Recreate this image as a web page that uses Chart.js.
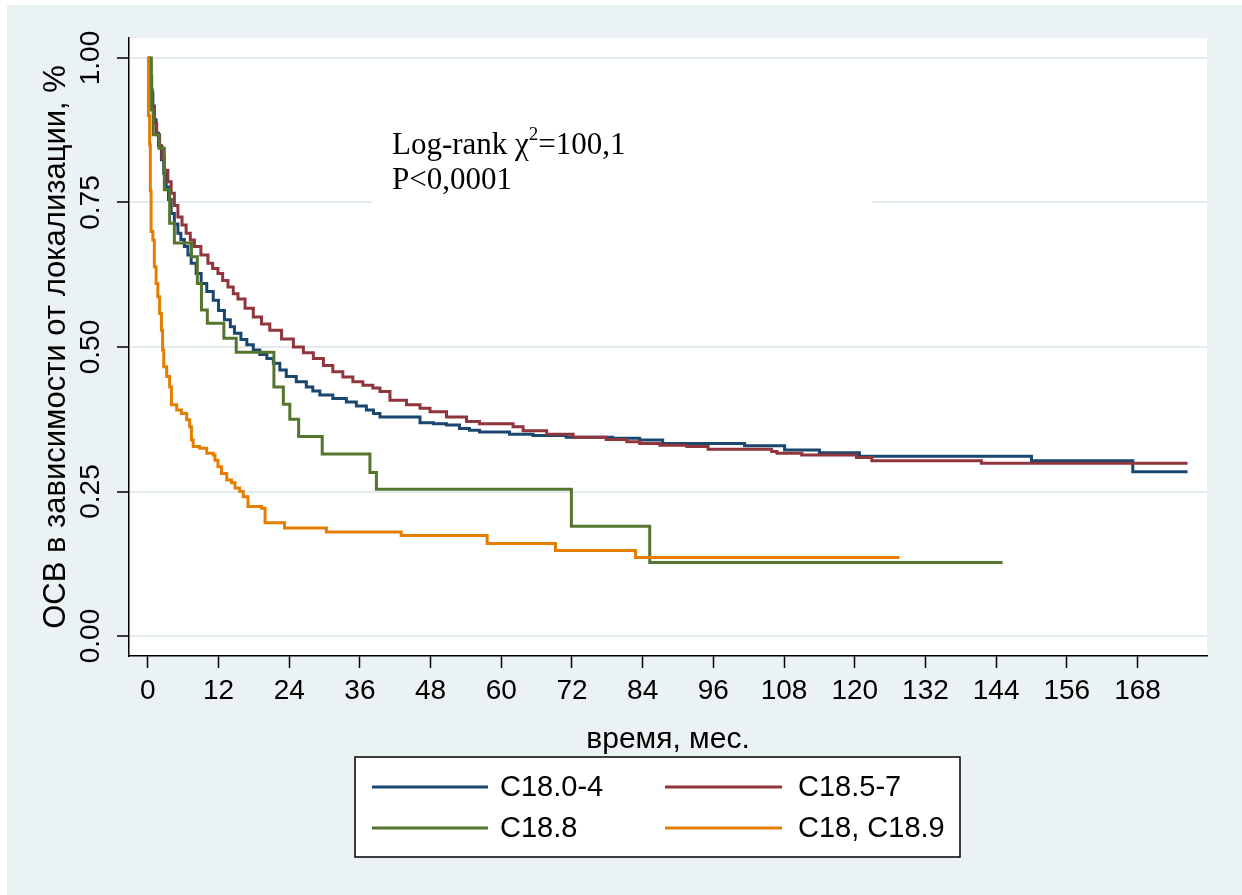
<!DOCTYPE html>
<html>
<head>
<meta charset="utf-8">
<script src="https://cdn.jsdelivr.net/npm/chart.js@4.4.1/dist/chart.umd.min.js"></script>
<style>
  html, body { margin: 0; padding: 0; background: #ffffff; }
  canvas { display: block; }
</style>
</head>
<body>
<canvas id="km" width="1242" height="895"></canvas>
<script>
// Groups by tumour localisation
const seriesLabels = ['C18.0-4', 'C18.5-7', 'C18.8', 'C18, C18.9'];
const seriesColors = ['#1a476f', '#90353b', '#55752f', '#e37e00'];

// Kaplan–Meier estimates: time in months and survival proportion after each drop
const monthsC18_0_4 = [0,0.2,0.45,0.65,0.85,1.1,1.4,1.8,2.3,2.7,3.1,3.5,3.95,4.5,5.1,5.6,6.2,6.8,7.35,8.2,9.05,10.0,11.1,12.0,13.0,14.0,14.7,15.8,16.8,17.9,19.0,20.2,21.3,22.4,23.5,25.2,26.9,28.0,29.2,31.4,33.7,35.4,37.1,38.3,39.4,46.2,48.5,50.7,52.9,54.6,56.3,61.4,65.4,71.0,78.9,83.5,87.4,101.3,108.1,114.0,120.8,150.0,167.2,176.5];
const survC18_0_4   = [1,0.985,0.968,0.94,0.917,0.893,0.870,0.848,0.824,0.800,0.777,0.755,0.731,0.713,0.697,0.686,0.674,0.659,0.645,0.627,0.610,0.596,0.581,0.563,0.547,0.535,0.524,0.513,0.504,0.495,0.487,0.480,0.472,0.460,0.449,0.440,0.431,0.424,0.417,0.411,0.405,0.398,0.391,0.385,0.379,0.369,0.367,0.365,0.359,0.356,0.353,0.349,0.347,0.344,0.342,0.339,0.333,0.329,0.322,0.317,0.311,0.303,0.284,0.284];

const monthsC18_5_7 = [0,0.2,0.45,0.75,1.1,1.5,2.0,2.4,2.8,3.4,3.95,4.5,5.1,5.8,6.5,7.2,7.9,9.0,10.2,11.0,11.9,12.7,13.6,14.5,15.3,16.5,17.9,19.3,20.7,22.7,24.7,26.4,28.1,29.8,31.4,33.1,34.8,36.5,38.2,39.4,41.1,43.9,46.2,47.9,50.7,54.1,56.3,62.0,63.7,67.7,72.2,77.8,81.3,83.5,86.9,91.5,95.1,105.9,106.8,111.0,120.3,122.9,141.5,176.5];
const survC18_5_7   = [1,0.975,0.945,0.915,0.887,0.867,0.847,0.826,0.806,0.786,0.766,0.745,0.725,0.711,0.697,0.685,0.674,0.659,0.645,0.636,0.627,0.615,0.604,0.592,0.583,0.567,0.552,0.540,0.529,0.514,0.500,0.490,0.480,0.468,0.457,0.448,0.440,0.434,0.429,0.423,0.408,0.400,0.394,0.388,0.379,0.371,0.367,0.362,0.355,0.349,0.344,0.340,0.336,0.333,0.330,0.328,0.323,0.319,0.316,0.313,0.309,0.303,0.299,0.299];

const monthsC18_8 = [0,0.6,0.9,1.9,2.8,3.7,4.5,7.4,8.4,9.1,10.1,12.9,15.0,21.4,23.0,24.1,25.6,29.6,37.7,38.8,71.9,85.2,145.1];
const survC18_8   = [1,0.910,0.867,0.844,0.772,0.714,0.680,0.656,0.610,0.564,0.541,0.515,0.491,0.431,0.401,0.375,0.345,0.315,0.283,0.254,0.190,0.127,0.127];

const monthsC18_9 = [0,0.1,0.3,0.42,0.55,0.85,1.1,1.4,1.7,2.0,2.3,2.5,2.7,3.2,3.7,4.0,4.9,5.7,6.6,7.1,7.4,7.7,8.8,10.0,11.1,11.4,11.9,12.5,13.4,14.2,14.8,15.6,16.2,17.0,19.3,19.9,23.2,30.3,43.0,57.6,69.2,82.8,127.6];
const survC18_9   = [1,0.900,0.850,0.770,0.700,0.685,0.639,0.610,0.587,0.558,0.529,0.495,0.466,0.449,0.431,0.400,0.391,0.385,0.374,0.362,0.339,0.328,0.325,0.316,0.313,0.304,0.293,0.281,0.270,0.265,0.256,0.250,0.241,0.224,0.221,0.196,0.187,0.180,0.174,0.160,0.148,0.136,0.136];

// Axis ticks
const xTickValues = [0,12,24,36,48,60,72,84,96,108,120,132,144,156,168];
const yTickValues = [0,0.25,0.5,0.75,1];
const yTickLabels = ['0.00','0.25','0.50','0.75','1.00'];

const seriesMonths = [monthsC18_0_4, monthsC18_5_7, monthsC18_8, monthsC18_9];
const seriesSurv = [survC18_0_4, survC18_5_7, survC18_8, survC18_9];

const SANS = '"Liberation Sans", Arial, Helvetica, sans-serif';
const SERIF = '"Liberation Serif", "Times New Roman", serif';
const BG = '#eaf2f3';
const GRID = '#e2ebee';

// Graph region background and white plot region
const backdrop = {
  id: 'backdrop',
  beforeDraw(chart) {
    const { ctx, width, height, chartArea: a } = chart;
    ctx.save();
    ctx.fillStyle = '#ffffff';
    ctx.fillRect(0, 0, width, height);
    ctx.fillStyle = BG;
    ctx.fillRect(7, 5, width - 7, height - 5);
    ctx.fillStyle = '#ffffff';
    ctx.fillRect(a.left, a.top, a.right - a.left, a.bottom - a.top);
    ctx.restore();
  }
};

// Log-rank test note on a white box
const logRankNote = {
  id: 'logRankNote',
  beforeDatasetsDraw(chart) {
    const { ctx } = chart;
    ctx.save();
    ctx.fillStyle = '#ffffff';
    ctx.fillRect(372, 96, 500, 110);
    ctx.fillStyle = '#000000';
    ctx.textBaseline = 'alphabetic';
    ctx.textAlign = 'left';
    ctx.font = '31px ' + SERIF;
    let x = 392;
    const part1 = 'Log-rank \u03C7';
    ctx.fillText(part1, x, 154);
    x += ctx.measureText(part1).width;
    ctx.font = '19px ' + SERIF;
    ctx.fillText('2', x, 140);
    x += ctx.measureText('2').width;
    ctx.font = '31px ' + SERIF;
    ctx.fillText('=100,1', x, 154);
    ctx.fillText('P<0,0001', 392, 189);
    ctx.restore();
  }
};

// Vertical tick labels on the y axis
const yTickText = {
  id: 'yTickText',
  afterDraw(chart) {
    const { ctx, scales: { y } } = chart;
    ctx.save();
    ctx.fillStyle = '#000000';
    ctx.font = '28px ' + SANS;
    ctx.textAlign = 'center';
    ctx.textBaseline = 'middle';
    yTickValues.forEach((v, i) => {
      const py = y.getPixelForValue(v);
      ctx.save();
      ctx.translate(91, py);
      ctx.rotate(-Math.PI / 2);
      ctx.fillText(yTickLabels[i], 0, 0);
      ctx.restore();
    });
    ctx.restore();
  }
};

// Two-column legend box below the axis title
const legendBox = {
  id: 'legendBox',
  afterDraw(chart) {
    const { ctx } = chart;
    const box = { left: 355, top: 757, right: 960, bottom: 857 };
    ctx.save();
    ctx.fillStyle = '#ffffff';
    ctx.fillRect(box.left, box.top, box.right - box.left, box.bottom - box.top);
    ctx.strokeStyle = '#000000';
    ctx.lineWidth = 1.5;
    ctx.strokeRect(box.left, box.top, box.right - box.left, box.bottom - box.top);
    const cols = [{ x0: 372, x1: 488, tx: 500 }, { x0: 665, x1: 782, tx: 798 }];
    const rows = [787, 828];
    ctx.font = '29px ' + SANS;
    ctx.textBaseline = 'middle';
    ctx.textAlign = 'left';
    chart.data.datasets.forEach((ds, i) => {
      const c = cols[i % 2];
      const ry = rows[Math.floor(i / 2)];
      ctx.strokeStyle = ds.borderColor;
      ctx.lineWidth = 2.8;
      ctx.beginPath();
      ctx.moveTo(c.x0, ry);
      ctx.lineTo(c.x1, ry);
      ctx.stroke();
      ctx.fillStyle = '#000000';
      ctx.fillText(ds.label, c.tx, ry + 1);
    });
    ctx.restore();
  }
};

const datasets = seriesLabels.map((label, i) => ({
  label,
  data: seriesMonths[i].map((m, k) => ({ x: m, y: seriesSurv[i][k] })),
  borderColor: seriesColors[i],
  backgroundColor: seriesColors[i],
  borderWidth: 3,
  pointRadius: 0,
  pointHoverRadius: 0,
  stepped: 'before',
  fill: false,
  order: seriesLabels.length - i
}));

new Chart(document.getElementById('km').getContext('2d'), {
  type: 'line',
  data: { datasets },
  options: {
    responsive: false,
    animation: false,
    devicePixelRatio: 1,
    layout: { padding: { left: 0, top: 38, right: 35, bottom: 0 } },
    plugins: {
      legend: { display: false },
      tooltip: { enabled: false }
    },
    scales: {
      x: {
        type: 'linear',
        min: -3.2,
        max: 179.8,
        afterBuildTicks: (s) => { s.ticks = xTickValues.map(v => ({ value: v })); },
        afterFit: (s) => { s.height = 239; },
        grid: { drawOnChartArea: false, drawTicks: true, tickLength: 12, tickColor: '#000000', tickWidth: 1.5 },
        border: { display: true, color: '#000000', width: 1.5 },
        ticks: {
          padding: 6, color: '#000000', maxRotation: 0, autoSkip: false,
          font: { family: SANS, size: 28 },
          callback: (v) => String(v)
        },
        title: {
          display: true, text: 'время, мес.', color: '#000000',
          font: { family: SANS, size: 30 },
          padding: { top: 0, bottom: 137 }
        }
      },
      y: {
        type: 'linear',
        min: -0.0346,
        max: 1.0346,
        afterBuildTicks: (s) => { s.ticks = yTickValues.map(v => ({ value: v })); },
        afterFit: (s) => { s.width = 129; },
        grid: { color: GRID, lineWidth: 2, drawTicks: true, tickLength: 12, tickColor: '#000000', tickWidth: 1.5 },
        border: { display: true, color: '#000000', width: 1.5 },
        ticks: { display: false },
        title: {
          display: true, text: 'ОСВ в зависимости от локализации, %', color: '#000000',
          font: { family: SANS, size: 31 },
          padding: { top: 38, bottom: 0 }
        }
      }
    }
  },
  plugins: [backdrop, logRankNote, yTickText, legendBox]
});
</script>
</body>
</html>
